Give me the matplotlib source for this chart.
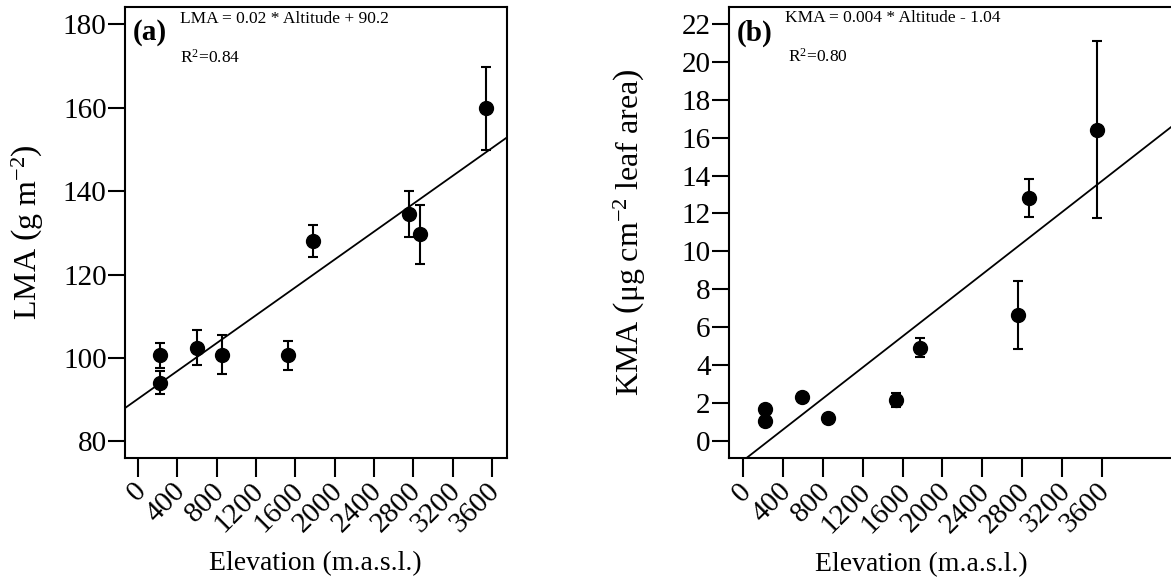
import numpy as np
import matplotlib
matplotlib.use("Agg")
from matplotlib import pyplot as plt
from matplotlib import transforms

plt.rcParams['font.family'] = ['Liberation Serif', 'DejaVu Serif']
plt.rcParams['mathtext.fontset'] = 'custom'
plt.rcParams['mathtext.rm'] = 'Liberation Serif'
plt.rcParams['mathtext.it'] = 'Liberation Serif:italic'
plt.rcParams['mathtext.bf'] = 'Liberation Serif:bold'

# site elevations (m a.s.l.)
elevation = [220, 220, 596, 850, 1530, 1778, 2761, 2870, 3544]

# leaf mass per area (g m-2) with error
lma = [100.6, 94.1, 102.5, 100.8, 100.6, 128.0, 134.6, 129.6, 159.8]
lma_err = [2.9, 2.7, 4.2, 4.6, 3.4, 3.9, 5.5, 7.0, 10.0]

# K per leaf area (ug cm-2) with error
kma = [1.07, 1.70, 2.31, 1.23, 2.16, 4.92, 6.65, 12.83, 16.41]
kma_err = [0.15, 0.15, 0.2, 0.1, 0.35, 0.5, 1.8, 1.0, 4.67]

# fitted lines
lma_slope, lma_icpt, lma_r2 = 0.0167, 90.2, 0.84
kma_slope, kma_icpt, kma_r2 = 0.0041, -1.04, 0.80

x_ticks = list(range(0, 3601, 400))

W, H = 1171, 579
fig = plt.figure(figsize=(W / 100, H / 100), dpi=100)


def px_axes(left, top, right, bottom):
    return fig.add_axes([left / W, 1 - bottom / H, (right - left) / W, (bottom - top) / H])


def style_axes(ax):
    for sp in ax.spines.values():
        sp.set_linewidth(1.5)
    ax.tick_params(axis='y', length=12, width=1.5, labelsize=21, pad=1)
    ax.tick_params(axis='x', length=14, width=1.5, labelsize=21, pad=7)
    ax.set_xticks(x_ticks)
    ax.set_xticklabels([str(t) for t in x_ticks], rotation=45, ha='right',
                       va='center', rotation_mode='anchor')
    # nudge the slanted labels a little to the right
    shift = transforms.ScaledTranslation(0.04, 0, fig.dpi_scale_trans)
    for lab in ax.get_xticklabels():
        lab.set_transform(lab.get_transform() + shift)


def draw_panel(ax, y, yerr, slope, icpt):
    ax.errorbar(elevation, y, yerr=yerr, fmt='o', color='black', markersize=10,
                elinewidth=1.5, capsize=3.5, capthick=1.5, zorder=3)
    ax.axline((0, icpt), slope=slope, color='black', linewidth=1.3)


# panel (a)
ax1 = px_axes(124.7, 6.7, 506.7, 457.7)
draw_panel(ax1, lma, lma_err, lma_slope, lma_icpt)
ax1.set_xlim(-135, 3750)
ax1.set_ylim(76.1, 184.2)
ax1.set_yticks([80, 100, 120, 140, 160, 180])
style_axes(ax1)
ax1.set_ylabel(r"LMA $\left(\mathrm{g\ m^{-2}}\right)$", fontsize=23)
ax1.yaxis.set_label_coords(-0.205, 0.5)
ax1.set_xlabel("Elevation (m.a.s.l.)", fontsize=20)
ax1.xaxis.set_label_coords(0.5, -0.207)
ax1.text(0.02, 0.942, "(a)", transform=ax1.transAxes, fontsize=21,
         fontweight='bold', va='center', ha='left')
ax1.text(0.145, 0.972, f"LMA = {lma_slope:.2f} * Altitude + {lma_icpt}",
         transform=ax1.transAxes, fontsize=12.5, va='center')
ax1.text(0.145, 0.886, f"R$^2$={lma_r2:.2f}", transform=ax1.transAxes,
         fontsize=12.5, va='center')

# panel (b), running past the right edge
ax2 = px_axes(728.7, 6.7, 1190, 458.3)
draw_panel(ax2, kma, kma_err, kma_slope, kma_icpt)
ax2.set_xlim(-143, 4481)
ax2.set_ylim(-0.91, 22.9)
ax2.set_yticks(list(range(0, 23, 2)))
style_axes(ax2)
ax2.set_ylabel(r"KMA $\left(\mathrm{\mu g\ cm^{-2}\ leaf\ area}\right)$", fontsize=23)
ax2.yaxis.set_label_coords(-0.175, 0.5)
ax2.set_xlabel("Elevation (m.a.s.l.)", fontsize=20)
ax2.xaxis.set_label_coords(0.418, -0.207)
ax2.text(0.017, 0.942, "(b)", transform=ax2.transAxes, fontsize=21,
         fontweight='bold', va='center', ha='left')
ax2.text(0.122, 0.976, f"KMA = {kma_slope:.3f} * Altitude - {abs(kma_icpt)}",
         transform=ax2.transAxes, fontsize=12.5, va='center')
ax2.text(0.129, 0.890, f"R$^2$={kma_r2:.2f}", transform=ax2.transAxes,
         fontsize=12.5, va='center')

fig.savefig("out.png", dpi=100)
